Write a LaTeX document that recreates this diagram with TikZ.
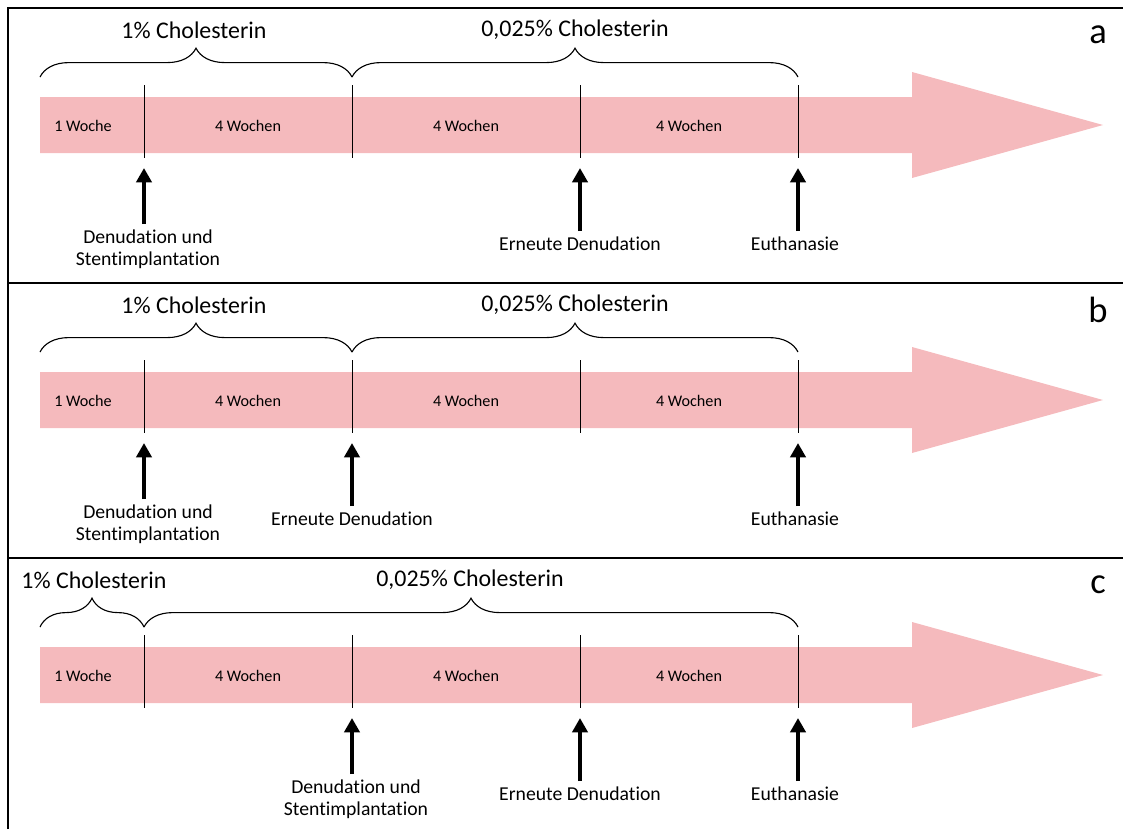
\documentclass[tikz,border=0pt]{standalone}
\usepackage{fontspec}
\setmainfont{Carlito}[RawFeature={-liga}]
\usetikzlibrary{arrows.meta,decorations.pathreplacing}
\definecolor{barpink}{RGB}{245,186,189}

\begin{document}
\begin{tikzpicture}[x=0.025cm,y=-0.025cm,
  frame/.style={line width=2.1pt},
  tick/.style={line width=0.7pt},
  brc/.style={decorate,decoration={brace,amplitude=0.72cm},line width=0.8pt},
  dose/.style={font=\fontsize{17}{20}\selectfont},
  wk/.style={font=\fontsize{11.5}{13}\selectfont},
  ev/.style={font=\fontsize{14}{15.6}\selectfont,align=center,anchor=north,inner sep=1pt},
  up/.style={line width=3.2pt,shorten <=0.1cm,-{Triangle[length=0.36cm,width=0.38cm]}},
  tag/.style={font=\fontsize{26}{30}\selectfont}]

\useasboundingbox (0,0) rectangle (1123,829);

% frame
\draw[frame] (8,829) -- (8,8) -- (1123,8);
\draw[frame] (8,283) -- (1123,283);
\draw[frame] (8,558) -- (1123,558);

% time bars
\foreach \yo/\p in {0/a,275/b,550/c}{
  \fill[barpink] (40,97+\yo) -- (912,97+\yo) -- (912,72+\yo) -- (1103,125+\yo)
    -- (912,178+\yo) -- (912,153+\yo) -- (40,153+\yo) -- cycle;
  \foreach \x in {144,352,580,798}
    \draw[tick] (\x,85+\yo) -- (\x,158+\yo);
  \node[wk] (w1\p) at (83,126+\yo) {1 Woche};
  \node[wk] (w2\p) at (248,126+\yo) {4 Wochen};
  \node[wk] (w3\p) at (466,126+\yo) {4 Wochen};
  \node[wk] (w4\p) at (689,126+\yo) {4 Wochen};
}

% a
\node[tag] (tagA) at (1098,35) {a};
\node[dose] (hiA) at (194,30) {1\% Cholesterin};
\node[dose] (loA) at (575,30) {0,025\% Cholesterin};
\draw[brc] (40,77) -- (352,77);
\draw[brc] (352,77) -- (798,77);
\node[ev] (stentA) at (148,228) {Denudation und\\Stentimplantation};
\node[ev] (redenA) at (580,235) {Erneute Denudation};
\node[ev] (euthA) at (795,235) {Euthanasie};
\coordinate (pA1) at (144,168);
\coordinate (pA2) at (580,168);
\coordinate (pA3) at (798,168);
\draw[up] (stentA.north -| pA1) -- (pA1);
\draw[up] (redenA.north -| pA2) -- (pA2);
\draw[up] (euthA.north -| pA3) -- (pA3);

% b
\node[tag] (tagB) at (1098,310) {b};
\node[dose] (hiB) at (194,305) {1\% Cholesterin};
\node[dose] (loB) at (575,305) {0,025\% Cholesterin};
\draw[brc] (40,352) -- (352,352);
\draw[brc] (352,352) -- (798,352);
\node[ev] (stentB) at (148,503) {Denudation und\\Stentimplantation};
\node[ev] (redenB) at (352,510) {Erneute Denudation};
\node[ev] (euthB) at (795,510) {Euthanasie};
\coordinate (pB1) at (144,443);
\coordinate (pB2) at (352,443);
\coordinate (pB3) at (798,443);
\draw[up] (stentB.north -| pB1) -- (pB1);
\draw[up] (redenB.north -| pB2) -- (pB2);
\draw[up] (euthB.north -| pB3) -- (pB3);

% c
\node[tag] (tagC) at (1098,585) {c};
\node[dose] (hiC) at (94,580) {1\% Cholesterin};
\node[dose] (loC) at (470,580) {0,025\% Cholesterin};
\draw[brc] (40,627) -- (144,627);
\draw[brc] (144,627) -- (798,627);
\node[ev] (stentC) at (356,778) {Denudation und\\Stentimplantation};
\node[ev] (redenC) at (580,785) {Erneute Denudation};
\node[ev] (euthC) at (795,785) {Euthanasie};
\coordinate (pC1) at (352,718);
\coordinate (pC2) at (580,718);
\coordinate (pC3) at (798,718);
\draw[up] (stentC.north -| pC1) -- (pC1);
\draw[up] (redenC.north -| pC2) -- (pC2);
\draw[up] (euthC.north -| pC3) -- (pC3);
\end{tikzpicture}
\end{document}
